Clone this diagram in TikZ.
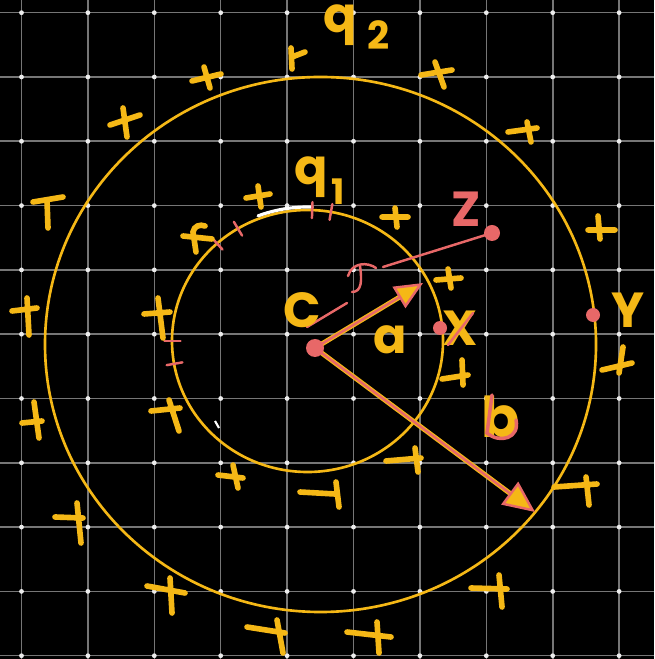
\documentclass[tikz,border=0pt]{standalone}
\usepackage{fontspec}
\usepackage{tikz}
\usetikzlibrary{arrows.meta}
\newfontfamily\handfont{Poppins}
\definecolor{hy}{RGB}{245,184,22}
\definecolor{hr}{RGB}{232,104,104}
\definecolor{gridgray}{RGB}{118,118,118}

\begin{document}
\begin{tikzpicture}[x=0.01cm, y=-0.01cm,
    gridline/.style={gridgray, line width=0.45pt},
    ring/.style={hy, line width=0.75pt},
    charge/.style={hy, line width=1.6pt, line cap=round},
    redpen/.style={hr, line width=0.7pt, line cap=round},
    handtext/.style={text=hy, inner sep=0pt, font=\handfont\bfseries\fontsize{14}{14}\selectfont}]
    % ===== Background and grid =====
    \fill[black] (0,0) rectangle (654,659);
    \useasboundingbox (0,0) rectangle (654,659);
    \foreach \i in {0,...,9} {
        \draw[gridline] (21.5+66.4*\i,0) -- (21.5+66.4*\i,659);
    }
    \foreach \j in {0,...,10} {
        \draw[gridline] (0,12.7+64.3*\j) -- (654,12.7+64.3*\j);
    }
    \foreach \i in {0,...,9} {
        \foreach \j in {0,...,10} {
            \fill[white!85!gray] (21.5+66.4*\i,12.7+64.3*\j) circle (2.4);
        }
    }

    % ===== The two shells =====
    \coordinate (inner) at (307.5,341);
    \coordinate (outer) at (320.5,344.5);
    \draw[ring] (inner) ellipse [x radius=135.5, y radius=131];
    \draw[ring] (outer) ellipse [x radius=275.5, y radius=267.5];
    % marks on the inner shell
    \draw[white, line width=0.9pt, line cap=round] (inner) ++(-111:138 and 134) arc[start angle=-111, end angle=-88, x radius=138, y radius=134];
    \foreach \ang in {-132,-121,-88,-80,180,170} {
        \draw[redpen] (inner) ++(\ang:127 and 123) -- ++(\ang:16 and 16);
    }
    \draw[white, line width=0.6pt] (215,421) -- (219,428);

    % ===== Charges, outer shell =====
    \draw[charge] (192,81) -- (221,74) (204,67) -- (210,88);
    \draw[charge] (291,48) -- (292,69) (292,57) -- (305,52);
    \draw[charge] (421,75) -- (452,70) (435,62) -- (444,87);
    \draw[charge] (110,125) -- (140,115) (123,108) -- (127,137);
    \draw[charge] (508,132) -- (537,128) (527,122) -- (531,142);
    \draw[charge] (33,202) -- (63,197) (47,200) -- (48,228);
    \draw[charge] (588,230) -- (615,230) (598,216) -- (600,239);
    \draw[charge] (12,311) -- (37,308) (27,298) -- (29,335);
    \draw[charge] (602,370) -- (632,363) (623,347) -- (619,373);
    \draw[charge] (22,423) -- (42,421) (34,402) -- (39,438);
    \draw[charge] (55,517) -- (83,518) (77,503) -- (81,543);
    \draw[charge] (554,487) -- (597,484) (586,477) -- (589,505);
    \draw[charge] (147,586) -- (185,593) (170,578) -- (172,613);
    \draw[charge] (471,588) -- (507,589) (499,575) -- (502,607);
    \draw[charge] (247,627) -- (285,633) (277,620) -- (283,653);
    \draw[charge] (347,632) -- (391,637) (377,622) -- (379,653);
    % ===== Charges, inner shell =====
    \draw[charge] (246,198) -- (270,194) (258,186) -- (261,207);
    \draw[charge] (382,217) -- (408,217) (395,208) -- (397,227);
    \draw[charge] (183,236) -- (212,239) (196,252) -- (193,232) .. controls (194,226) and (200,224) .. (205,226);
    \draw[charge] (436,280) -- (461,278) (448,269) -- (451,288);
    \draw[charge] (144,314) -- (170,312) (158,298) -- (163,338);
    \draw[charge] (151,411) -- (180,408) (169,400) -- (179,431);
    \draw[charge] (442,379) -- (468,375) (462,360) -- (463,385);
    \draw[charge] (218,475) -- (243,478) (233,465) -- (238,488);
    \draw[charge] (300,492) -- (335,494) (336,482) -- (339,507);
    \draw[charge] (386,461) -- (421,458) (415,448) -- (418,472);

    % ===== Points and radii =====
    \coordinate (C) at (315,348);
    \coordinate (atip) at (423,283);
    \coordinate (btip) at (535,512);
    \coordinate (X) at (440,328);
    \coordinate (Y) at (593,315);
    \coordinate (Z) at (492,233);
    \coordinate (zfrom) at (383,267);
    \draw[hy, line width=1.4pt, shorten >=4pt] (C) -- (atip);
    \draw[redpen, -{Triangle[fill=hy, length=8pt, width=7pt, line width=0.7pt]}] (C) -- (atip);
    \draw[hy, line width=1.4pt, shorten >=4pt] (C) -- (btip);
    \draw[redpen, -{Triangle[fill=hy, length=9pt, width=8pt, line width=0.7pt]}] (C) -- (btip);
    % line towards Z
    \draw[redpen] (307,327) -- (347,303);
    \draw[redpen] (348,276) .. controls (352,262) and (368,262) .. (376,268);
    \draw[redpen] (360,266) .. controls (362,280) and (362,292) .. (352,292);
    \draw[redpen] (zfrom) -- (Z);
    \fill[hr] (C) circle (9);
    \fill[hr] (X) circle (7);
    \fill[hr] (Y) circle (7);
    \fill[hr] (Z) circle (8);

    % ===== Labels =====
    \node[handtext, anchor=base west] (q2) at (323,33) {q\kern3pt\raisebox{-4.8pt}{\fontsize{11}{11}\selectfont 2}};
    \node[handtext, anchor=base west] (q1) at (294,185) {q\kern1pt\raisebox{-5.5pt}{\fontsize{10}{10}\selectfont 1}};
    \node[handtext] (Clab) at (302,310) {C};
    \node[handtext] (alab) at (390,340) {a};
    \node[handtext, font=\handfont\bfseries\fontsize{16}{16}\selectfont] (blab) at (501,417) {b};
    \draw[redpen, line width=1pt] (492,395) -- (487,433) .. controls (500,444) and (520,438) .. (516,420);
    \node[handtext] (Xlab) at (460,328) {X};
    \node[handtext] (Ylab) at (628,310) {Y};
    \node[handtext, text=hr] (Zlab) at (466,209) {Z};
    \draw[redpen] (448,345) -- (473,313);
\end{tikzpicture}
\end{document}
